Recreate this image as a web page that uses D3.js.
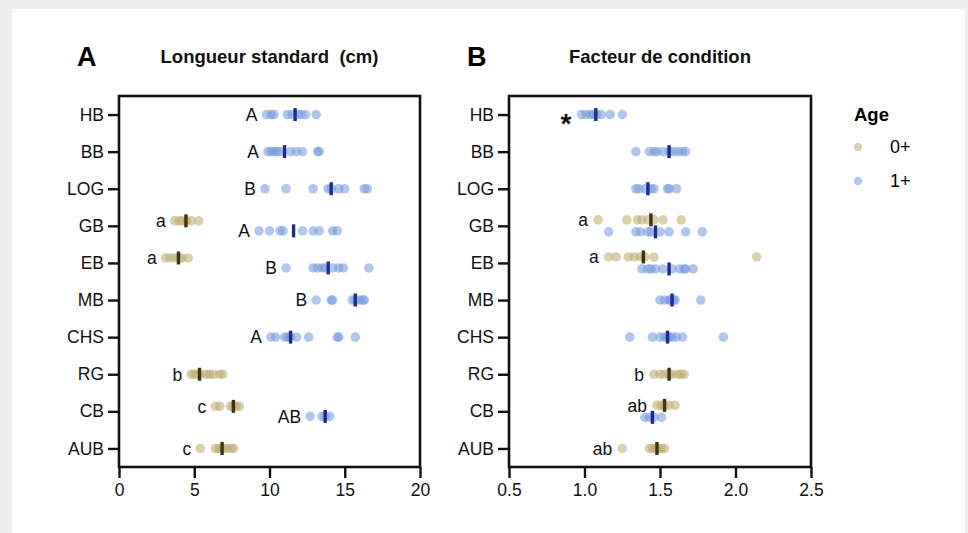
<!DOCTYPE html>
<html>
<head>
<meta charset="utf-8">
<script src="https://cdn.jsdelivr.net/npm/d3@7"></script>
<style>
body { margin: 0; background: #eeefef; }
svg { display: block; font-family: "Liberation Sans", Arial, Helvetica, sans-serif; }
</style>
</head>
<body>
<div id="chart"></div>
<script>
const sites = ["HB", "BB", "LOG", "GB", "EB", "MB", "CHS", "RG", "CB", "AUB"];
const ageGroups = ["0+", "1+"];

// Longueur standard (cm)
const lengthAge0 = [
    null, null, null,
    [3.7, 4.0, 4.2, 4.5, 4.8, 5.3],
    [3.1, 3.4, 3.7, 4.0, 4.2, 4.6],
    null, null,
    [4.8, 5.0, 5.2, 5.4, 5.8, 6.0, 6.3, 6.7, 6.9],
    [6.4, 6.7, 7.4, 7.6, 7.8, 8.0],
    [5.4, 6.4, 6.6, 6.8, 7.0, 7.2, 7.5, 7.6]
];
const lengthAge1 = [
    [9.8, 10.1, 10.3, 11.2, 11.5, 11.9, 12.1, 12.4, 13.1],
    [9.9, 10.1, 10.3, 10.5, 10.7, 11.4, 11.8, 12.2, 13.2, 13.3],
    [9.7, 11.1, 12.9, 13.9, 14.1, 14.6, 15.0, 16.3, 16.5],
    [9.3, 10.0, 10.7, 10.9, 12.2, 12.9, 13.3, 14.2, 14.5],
    [11.1, 12.9, 13.2, 13.5, 13.7, 14.2, 14.6, 14.9, 16.6],
    [13.1, 14.1, 14.2, 15.5, 15.7, 16.0, 16.2, 16.3],
    [10.1, 10.4, 11.0, 11.2, 11.4, 11.8, 12.6, 14.5, 14.6, 15.7],
    null,
    [12.7, 13.5, 13.7, 14.0],
    null
];
const lengthMean0 = [null, null, null, 4.45, 3.95, null, null, 5.35, 7.6, 6.85];
const lengthMean1 = [11.7, 11.0, 14.1, 11.6, 13.9, 15.7, 11.4, null, 13.7, null];
const lengthLetters0 = [null, null, null, "a", "a", null, null, "b", "c", "c"];
const lengthLetters1 = ["A", "A", "B", "A", "B", "B", "A", null, "AB", null];
const lengthTicks = [0, 5, 10, 15, 20];

// Facteur de condition
const conditionAge0 = [
    null, null, null,
    [1.09, 1.28, 1.35, 1.38, 1.42, 1.46, 1.52, 1.64],
    [1.16, 1.21, 1.29, 1.33, 1.37, 1.40, 1.46, 2.14],
    null, null,
    [1.46, 1.50, 1.53, 1.56, 1.58, 1.62, 1.64, 1.66],
    [1.48, 1.51, 1.53, 1.56, 1.60],
    [1.25, 1.43, 1.45, 1.47, 1.49, 1.51, 1.53]
];
const conditionAge1 = [
    [0.98, 1.01, 1.04, 1.06, 1.08, 1.11, 1.17, 1.25],
    [1.34, 1.43, 1.46, 1.48, 1.52, 1.56, 1.59, 1.62, 1.65, 1.67],
    [1.34, 1.36, 1.40, 1.44, 1.46, 1.55, 1.56, 1.61],
    [1.16, 1.34, 1.37, 1.42, 1.44, 1.50, 1.56, 1.67, 1.78],
    [1.38, 1.42, 1.44, 1.47, 1.52, 1.58, 1.63, 1.66, 1.67, 1.72],
    [1.50, 1.53, 1.56, 1.57, 1.59, 1.60, 1.77],
    [1.30, 1.45, 1.50, 1.53, 1.55, 1.56, 1.58, 1.61, 1.65, 1.92],
    null,
    [1.40, 1.43, 1.46, 1.51],
    null
];
const conditionMean0 = [null, null, null, 1.44, 1.39, null, null, 1.56, 1.53, 1.48];
const conditionMean1 = [1.075, 1.56, 1.42, 1.47, 1.56, 1.58, 1.55, null, 1.45, null];
const conditionLetters0 = [null, null, null, "a", "a", null, null, "b", "ab", "ab"];
const conditionLetters1 = ["*", null, null, null, null, null, null, null, null, null];
const conditionTicks = [0.5, 1.0, 1.5, 2.0, 2.5];

const width = 968, height = 533;
const plotTop = 96, plotBottom = 467;
const dotColor = { "0+": "#bcaa6c", "1+": "#7398dc" };
const meanColor = { "0+": "#3d3414", "1+": "#1f2b8f" };
const dotRadius = 4.8;

const svg = d3.select("#chart")
    .append("svg")
    .attr("width", width)
    .attr("height", height);

svg.append("rect")
    .attr("x", 12)
    .attr("y", 9)
    .attr("width", 953)
    .attr("height", height - 9)
    .attr("fill", "#fff");

function drawPanel(cfg) {
    const x = d3.scaleLinear().domain(cfg.domain).range(cfg.range);
    const y = d3.scalePoint().domain(sites).range([plotTop, plotBottom]).padding(0.5);
    const g = svg.append("g");

    // panel letter + title
    g.append("text")
        .attr("x", cfg.range[0] - 42)
        .attr("y", 66)
        .attr("font-size", 27)
        .attr("font-weight", "bold")
        .text(cfg.letter);
    g.append("text")
        .attr("x", (cfg.range[0] + cfg.range[1]) / 2)
        .attr("y", 63)
        .attr("text-anchor", "middle")
        .attr("font-size", 18.5)
        .attr("font-weight", "bold")
        .attr("fill", "#111")
        .style("white-space", "pre")
        .text(cfg.title);

    // axes
    const xAxis = g.append("g")
        .attr("transform", `translate(0,${plotBottom})`)
        .call(d3.axisBottom(x).tickValues(cfg.ticks).tickFormat(cfg.format).tickSize(11).tickSizeOuter(0).tickPadding(6));
    const yAxis = g.append("g")
        .attr("transform", `translate(${cfg.range[0]},0)`)
        .call(d3.axisLeft(y).tickSize(11).tickSizeOuter(0).tickPadding(4));
    [xAxis, yAxis].forEach(a => {
        a.select(".domain").remove();
        a.selectAll("line").attr("stroke", "#111").attr("stroke-width", 2.4);
        a.selectAll("text").attr("font-size", 17.5).attr("fill", "#111")
            .attr("font-family", "'Liberation Sans', Arial, sans-serif");
    });

    g.append("rect")
        .attr("x", cfg.range[0])
        .attr("y", plotTop)
        .attr("width", cfg.range[1] - cfg.range[0])
        .attr("height", plotBottom - plotTop)
        .attr("fill", "none")
        .attr("stroke", "#111")
        .attr("stroke-width", 2.6);

    // rows per site and age group
    const rows = [];
    sites.forEach((s, i) => {
        const both = cfg.age0[i] && cfg.age1[i];
        [[cfg.age0, cfg.mean0, cfg.letters0, "0+", -1], [cfg.age1, cfg.mean1, cfg.letters1, "1+", 1]]
            .forEach(([vals, means, letters, age, side]) => {
                if (!vals[i]) return;
                rows.push({
                    site: s, age: age, values: vals[i], mean: means[i], letter: letters[i],
                    cy: y(s) + (both ? side * cfg.split : 0)
                });
            });
    });

    const rowG = g.selectAll(".row").data(rows).join("g").attr("class", "row");

    rowG.selectAll("circle")
        .data(d => d.values.map(v => ({ v: v, row: d })))
        .join("circle")
        .attr("cx", d => x(d.v))
        .attr("cy", d => d.row.cy)
        .attr("r", dotRadius)
        .attr("fill", d => dotColor[d.row.age])
        .attr("fill-opacity", 0.55);

    rowG.append("rect")
        .attr("x", d => x(d.mean) - 1.7)
        .attr("y", d => d.cy - 6.5)
        .attr("width", 3.4)
        .attr("height", 13)
        .attr("fill", d => meanColor[d.age]);

    rowG.filter(d => d.letter)
        .append("text")
        .attr("x", d => x(d3.min(d.values)) - cfg.labelGap)
        .attr("y", d => d.cy)
        .attr("dy", d => d.letter === "*" ? "0.66em" : "0.36em")
        .attr("text-anchor", "end")
        .attr("font-size", d => d.letter === "*" ? 28 : 17.5)
        .attr("font-weight", d => d.letter === "*" ? "bold" : "normal")
        .attr("fill", "#111")
        .text(d => d.letter);
}

drawPanel({
    letter: "A", title: "Longueur standard  (cm)",
    domain: [0, 20], range: [119, 420], ticks: lengthTicks, format: d3.format("d"),
    age0: lengthAge0, age1: lengthAge1, mean0: lengthMean0, mean1: lengthMean1,
    letters0: lengthLetters0, letters1: lengthLetters1, split: 5, labelGap: 9
});

drawPanel({
    letter: "B", title: "Facteur de condition",
    domain: [0.5, 2.5], range: [509, 811], ticks: conditionTicks, format: d3.format(".1f"),
    age0: conditionAge0, age1: conditionAge1, mean0: conditionMean0, mean1: conditionMean1,
    letters0: conditionLetters0, letters1: conditionLetters1, split: 6, labelGap: 10
});

// legend
const legend = svg.append("g").attr("transform", "translate(854,0)");
legend.append("text")
    .attr("x", 0).attr("y", 121)
    .attr("font-size", 18.5).attr("font-weight", "bold")
    .text("Age");
legend.selectAll(".item").data(ageGroups).join("g")
    .attr("class", "item")
    .attr("transform", (d, i) => `translate(0,${147 + i * 34})`)
    .each(function (d) {
        const item = d3.select(this);
        item.append("circle").attr("cx", 4).attr("cy", 0).attr("r", 4.2)
            .attr("fill", dotColor[d]).attr("fill-opacity", 0.55);
        item.append("text").attr("x", 36).attr("y", 0).attr("dy", "0.36em")
            .attr("font-size", 18).text(d);
    });
</script>
</body>
</html>
